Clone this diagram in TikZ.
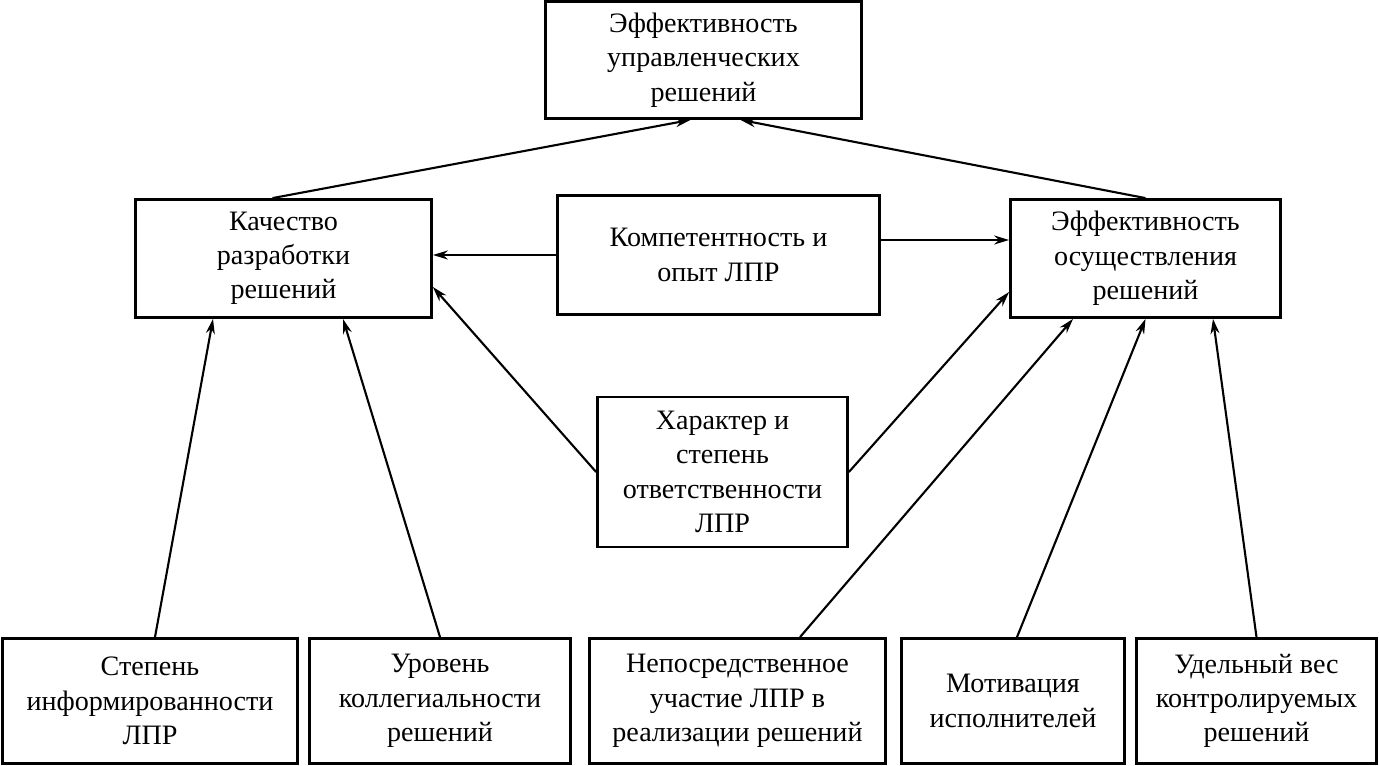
\documentclass[tikz,border=0pt]{standalone}
\usepackage{fontspec}
\setmainfont{Liberation Serif}
\usepackage{tikz}
\usetikzlibrary{arrows.meta}

\begin{document}
\begin{tikzpicture}[x=0.02cm,y=-0.02cm,
	box/.style={draw,line width=1.6pt,align=center,inner sep=0pt,font=\fontsize{16}{19.5}\selectfont},
	arr/.style={line width=1.2pt,-{Stealth[length=3mm,width=1.8mm]}}]
	\useasboundingbox (0,0) rectangle (1379,766);
	% top
	\node[box,minimum width=6.32cm,minimum height=2.34cm] (eff) at (703.5,60) {Эффективность\\управленческих\\решений};
	% middle row
	\node[box,minimum width=5.92cm,minimum height=2.36cm] (kach) at (283.5,258.5) {Качество\\разработки\\решений};
	\node[box,minimum width=6.44cm,minimum height=2.38cm] (komp) at (718.5,255) {Компетентность и\\опыт ЛПР};
	\node[box,minimum width=5.4cm,minimum height=2.36cm] (osush) at (1145.5,258.5) {Эффективность\\осуществления\\решений};
	\node[box,minimum width=5cm,minimum height=3cm] (harakt) at (722.5,472) {Характер и\\степень\\ответственности\\ЛПР};
	% bottom row
	\node[box,minimum width=5.9cm,minimum height=2.5cm] (stepen) at (150,701) {Степень\\информированности\\ЛПР};
	\node[box,minimum width=5.22cm,minimum height=2.5cm] (urov) at (440,701) {Уровень\\коллегиальности\\решений};
	\node[box,minimum width=5.92cm,minimum height=2.5cm] (neposr) at (737.5,701) {Непосредственное\\участие ЛПР в\\реализации решений};
	\node[box,minimum width=4.46cm,minimum height=2.5cm] (motiv) at (1013,701) {Мотивация\\исполнителей};
	\node[box,minimum width=4.8cm,minimum height=2.5cm] (udel) at (1256.5,701) {Удельный вес\\контролируемых\\решений};

	\draw[arr] ([xshift=-0.22cm]kach.north) -- ([xshift=-0.26cm]eff.south);
	\draw[arr] (osush.north) -- ([xshift=0.74cm]eff.south);
	\draw[arr] (komp.west) -- (komp.west -| kach.east);
	\draw[arr] ([yshift=0.3cm]komp.east) -- ([yshift=0.3cm]komp.east -| osush.west);
	\draw[arr] (harakt.west) -- ([yshift=-0.57cm]kach.east);
	\draw[arr] (harakt.east) -- ([yshift=-0.67cm]osush.west);
	\draw[arr] ([xshift=0.1cm]stepen.north) -- ([xshift=-1.41cm]kach.south);
	\draw[arr] (urov.north) -- ([xshift=1.19cm]kach.south);
	\draw[arr] ([xshift=1.25cm]neposr.north) -- ([xshift=-1.45cm]osush.south);
	\draw[arr] ([xshift=0.08cm]motiv.north) -- (osush.south);
	\draw[arr] (udel.north) -- ([xshift=1.35cm]osush.south);
\end{tikzpicture}
\end{document}
